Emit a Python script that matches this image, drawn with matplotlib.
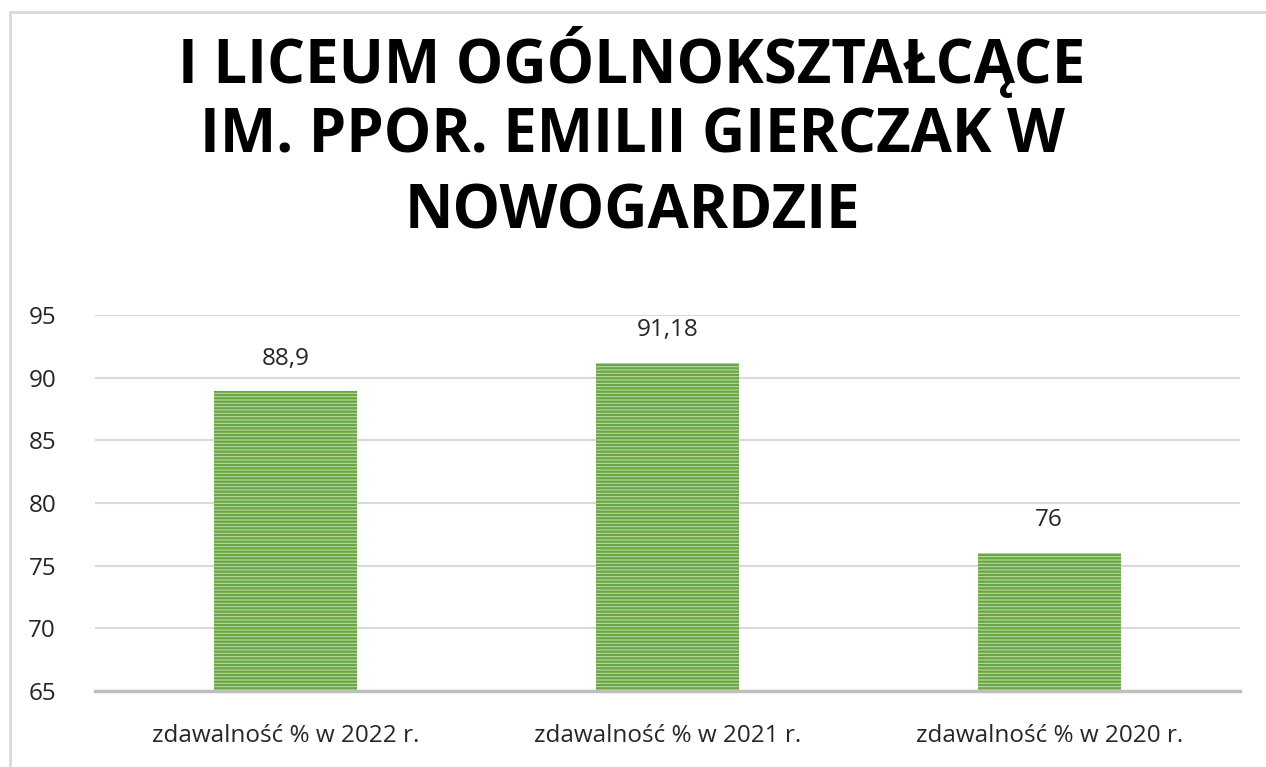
import matplotlib
matplotlib.use("Agg")
import matplotlib.pyplot as plt
from matplotlib.patches import Rectangle

categories = ["zdawalność % w 2022 r.", "zdawalność % w 2021 r.", "zdawalność % w 2020 r."]
values = [88.9, 91.18, 76]
value_labels = ["88,9", "91,18", "76"]
yticks = [65, 70, 75, 80, 85, 90, 95]
title_lines = ["I LICEUM OGÓLNOKSZTAŁCĄCE", "IM. PPOR. EMILII GIERCZAK W", "NOWOGARDZIE"]

plt.rcParams['font.family'] = ['Open Sans', 'DejaVu Sans']
plt.rcParams['hatch.linewidth'] = 1.7

fig = plt.figure(figsize=(12.66, 7.67), dpi=100)
fig.patch.set_facecolor('white')

# chart border (top and left visible)
fig.add_artist(Rectangle((10/1266, -0.1), 1.2, (767-12)/767 + 0.1, transform=fig.transFigure,
                         fill=False, edgecolor='#d9d9d9', linewidth=2))

ax = fig.add_axes([95/1266, 1-691/767, (1240-95)/1266, (691-315)/767])
x = list(range(len(categories)))
bars = ax.bar(x, values, width=0.375, bottom=0, facecolor='#c2dfae', edgecolor='#6aa744',
              hatch='-----', linewidth=0, zorder=3)
ax.set_ylim(65, 95)
ax.set_xlim(-0.5, 2.5)
ax.set_yticks(yticks)
ax.set_yticklabels([str(t) for t in yticks])
ax.set_xticks(x)
ax.set_xticklabels(categories)
ax.tick_params(axis='y', length=0, pad=28, labelsize=17.5, labelcolor='#262626')
ax.tick_params(axis='x', length=0, pad=24, labelsize=17.5, labelcolor='#262626')
ax.grid(axis='y', color='#d9d9d9', linewidth=1.5, zorder=0)
for s in ['top', 'right', 'left']:
    ax.spines[s].set_visible(False)
ax.spines['bottom'].set_color('#bfbfbf')
ax.spines['bottom'].set_linewidth(2.5)
ax.spines['bottom'].set_zorder(4)

for xi, v, lab in zip(x, values, value_labels):
    ax.annotate(lab, (xi, v), xytext=(0, 15), textcoords='offset points', ha='center', va='bottom',
                fontsize=17.5, color='#262626')

ys = [62, 137, 213]
for line, yy in zip(title_lines, ys):
    fig.text(632/1266, 1-yy/767, line, ha='center', va='center', fontsize=43,
             fontweight='bold', color='black')

fig.savefig('out.png', dpi=100)
